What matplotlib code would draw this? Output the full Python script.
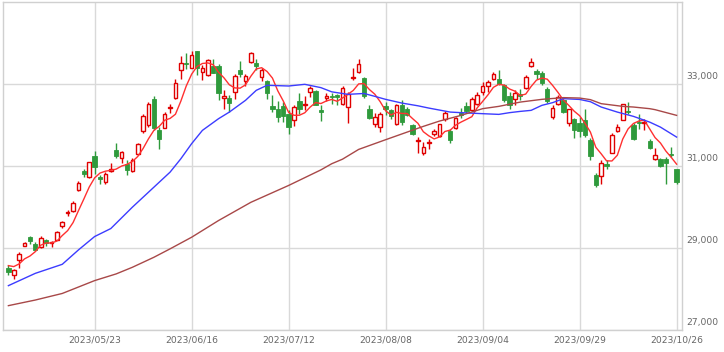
import numpy as np
import pandas as pd
import matplotlib
matplotlib.use("Agg")
import matplotlib.pyplot as plt
import matplotlib.transforms as mtransforms

# ---------------- data ----------------
holidays = ["2023-05-03", "2023-05-04", "2023-05-05", "2023-07-17",
            "2023-08-11", "2023-09-18", "2023-10-09"]
dates = pd.bdate_range("2023-04-26", "2023-10-26", freq="C", holidays=holidays)

opens = [28520, 28350, 28710, 29050, 29260, 29100, 29020, 29190, 29120, 29195,
         29530, 29838, 29900, 30420, 30860, 30720, 31240, 30735, 30600, 30880,
         31390, 31190, 31040, 30870, 31290, 31840, 32000, 32620, 31880, 31920,
         32410, 32660, 33340, 33500, 33390, 33790, 33290, 33200, 33430, 33430,
         32650, 32650, 32800, 33320, 33070, 33520, 33510, 33170, 33060, 32450,
         32390, 32450, 32270, 32110, 32580, 32480, 32800, 32810, 32350, 32660,
         32700, 32715, 32510, 32440, 33125, 33290, 33140, 32370, 32025, 31940,
         32460, 32350, 32025, 32490, 32370, 31985, 31610, 31320, 31560, 31765,
         31715, 32130, 31840, 31920, 32285, 32450, 32350, 32510, 32800, 32945,
         33120, 33120, 32960, 32690, 32635, 32740, 32895, 33440, 33300, 33270,
         32860, 32190, 32510, 32610, 32030, 32130, 32040, 32105, 31620, 30765,
         30740, 31040, 31320, 31846, 32120, 32330, 31985, 32060, 32030, 31595,
         31170, 31155, 31155, 31290, 30910]
highs = [28580, 28480, 28890, 29140, 29280, 29140, 29280, 29210, 29178, 29420,
         29660, 29920, 30130, 30630, 30930, 31090, 31350, 30780, 30840, 31070,
         31550, 31370, 31150, 31180, 31560, 32250, 32550, 32700, 31940, 32320,
         32510, 33120, 33670, 33735, 33800, 33790, 33450, 33610, 33610, 33490,
         32840, 32715, 33240, 33545, 33240, 33770, 33590, 33390, 33080, 32715,
         32570, 32550, 32350, 32470, 32780, 32690, 32940, 32840, 32490, 32780,
         32780, 32755, 32940, 32800, 33380, 33610, 33170, 32470, 32290, 32310,
         32550, 32390, 32510, 32610, 32420, 32020, 31690, 31580, 31640, 31900,
         32025, 32325, 31900, 32190, 32410, 32550, 32675, 32800, 33040, 33080,
         33285, 33325, 33000, 32800, 32840, 32880, 33200, 33630, 33365, 33300,
         32920, 32470, 32715, 32680, 32390, 32170, 32190, 32390, 31680, 30820,
         31130, 31130, 31800, 32025, 32510, 32550, 32040, 32250, 32150, 31660,
         31440, 31200, 31210, 31455, 30930]
lows = [28330, 28250, 28520, 29040, 29100, 28920, 29000, 29057, 29032, 29180,
        29490, 29785, 29880, 30390, 30720, 30700, 30810, 30555, 30555, 30840,
        31180, 31060, 30770, 30840, 31260, 31800, 31940, 31880, 31410, 31910,
        32290, 32630, 33120, 33350, 33370, 33220, 33080, 33190, 33250, 32590,
        32390, 32310, 32630, 33160, 32935, 33500, 33330, 33060, 32630, 32310,
        32065, 32065, 31780, 31970, 32270, 32350, 32675, 32470, 32080, 32570,
        32510, 32490, 32470, 32050, 33080, 33270, 32650, 32150, 31940, 31820,
        32230, 32150, 32000, 32000, 32200, 31740, 31317, 31270, 31415, 31720,
        31700, 32080, 31560, 31890, 32160, 32290, 32325, 32490, 32715, 32800,
        33080, 32960, 32550, 32390, 32490, 32590, 32860, 33400, 33120, 32960,
        32540, 32130, 32470, 32285, 31960, 31680, 31700, 31700, 31150, 30480,
        30560, 30930, 31310, 31820, 32105, 32250, 31620, 31900, 31880, 31410,
        31140, 30970, 30560, 31210, 30560]
closes = [28416, 28457, 28856, 29123, 29157, 28949, 29242, 29122, 29126, 29388,
          29626, 29843, 30094, 30574, 30808, 31087, 30958, 30683, 30801, 30916,
          31234, 31328, 30888, 31148, 31524, 32217, 32507, 31914, 31641, 32265,
          32434, 33019, 33502, 33485, 33706, 33370, 33389, 33575, 33265, 32782,
          32699, 32538, 33194, 33234, 33189, 33753, 33423, 33339, 32773, 32388,
          32190, 32204, 31944, 32419, 32391, 32494, 32896, 32491, 32304, 32701,
          32683, 32668, 32891, 32759, 33172, 33477, 32708, 32159, 32193, 32255,
          32377, 32204, 32474, 32060, 32239, 31767, 31626, 31451, 31566, 31857,
          32010, 32287, 31624, 32170, 32227, 32333, 32619, 32711, 32939, 33037,
          33241, 32991, 32607, 32468, 32776, 32707, 33168, 33533, 33243, 33024,
          32571, 32402, 32679, 32315, 32372, 31873, 31858, 31760, 31238, 30527,
          31075, 30995, 31747, 31937, 32495, 32316, 31659, 32040, 32042, 31431,
          31259, 31000, 31062, 31270, 30602]

# 5-day MA: first values (earlier closes not shown)
ma5_head = [28568, 28544, 28610, 28732]

# 25-day MA at these candle indices
ma25_idx = [0, 5, 10, 13, 16, 19, 21, 23, 27, 30, 32, 34, 36, 39, 41, 44, 46, 48,
            52, 55, 58, 60, 63, 66, 68, 70, 73, 76, 78, 82, 84, 88, 91, 93, 95,
            97, 99, 101, 103, 106, 108, 110, 113, 116, 119, 121, 124]
ma25_val = [28080, 28380, 28600, 28950, 29276, 29470, 29730, 29990, 30478, 30844,
            31170, 31537, 31861, 32146, 32307, 32593, 32837, 32959, 32942, 32983,
            32902, 32800, 32739, 32760, 32690, 32617, 32527, 32460, 32405, 32307,
            32293, 32268, 32251, 32293, 32324, 32349, 32471, 32537, 32634, 32615,
            32560, 32430, 32307, 32202, 32063, 31941, 31698]

# 75-day MA at these candle indices
ma75_idx = [0, 5, 10, 16, 20, 23, 27, 30, 34, 39, 45, 52, 58, 60, 62, 65, 70, 74,
            77, 80, 84, 88, 91, 95, 99, 103, 106, 108, 110, 114, 116, 119, 120, 124]
ma75_val = [27593, 27730, 27890, 28203, 28366, 28527, 28771, 28976, 29259, 29666,
            30110, 30520, 30900, 31049, 31160, 31398, 31634, 31820, 31959, 32088,
            32227, 32390, 32446, 32551, 32617, 32659, 32649, 32610, 32512, 32446,
            32430, 32390, 32366, 32227]

tick_labels = ["2023/05/23", "2023/06/16", "2023/07/12", "2023/08/08",
               "2023/09/04", "2023/09/29", "2023/10/26"]
y_ticks = [27000, 29000, 31000, 33000]

# ---------------- plot ----------------
plt.rcParams["font.family"] = ["DejaVu Sans"]
fig = plt.figure(figsize=(7.24, 3.52), dpi=100)
ax = fig.add_axes([3 / 724, 1 - 330 / 352, 679 / 724, 328.5 / 352])

n = len(closes)
x = np.arange(n)
o = np.array(opens, float)
h = np.array(highs, float)
l = np.array(lows, float)
c = np.array(closes, float)

RED = "#e00000"
GREEN = "#2f9a3c"

up = c >= o
# wicks
ax.vlines(x[up], l[up], h[up], color=RED, linewidth=1, zorder=2)
ax.vlines(x[~up], l[~up], h[~up], color=GREEN, linewidth=1, zorder=2)
# bodies
min_h = 25
body_bot = np.minimum(o, c)
body_h = np.maximum(np.abs(c - o), min_h)
ax.bar(x[up], body_h[up], bottom=body_bot[up], width=0.68,
       facecolor="white", edgecolor=RED, linewidth=1.0, zorder=3)
ax.bar(x[~up], body_h[~up], bottom=body_bot[~up], width=0.8,
       facecolor=GREEN, edgecolor=GREEN, linewidth=0.6, zorder=3)

# moving averages
ma5 = pd.Series(c).rolling(5).mean().to_numpy()
ma5[:4] = ma5_head
ax.plot(x, ma5, color="#ff3030", linewidth=1.0, zorder=4)
ax.plot(ma25_idx, ma25_val, color="#3c3cff", linewidth=1.0, zorder=4)
ax.plot(ma75_idx, ma75_val, color="#a84848", linewidth=1.0, zorder=4)

ax.set_xlim(-1, n)
ax.set_ylim(27000, 35000)

# grid
date_str = [d.strftime("%Y/%m/%d") for d in dates]
tick_pos = [date_str.index(t) for t in tick_labels]
ax.set_xticks(tick_pos)
ax.set_xticklabels(tick_labels, fontsize=6.6, color="#666666")
ax.tick_params(axis="x", length=0, pad=4)
ax.set_yticks(y_ticks)
ax.set_yticklabels([])
ax.tick_params(axis="y", length=0)
ax.grid(True, color="#d9d9d9", linewidth=1.0, zorder=0)
ax.set_axisbelow(True)
for s in ax.spines.values():
    s.set_color("#d0d0d0")
    s.set_linewidth(1.0)

# right-side price labels, just above the grid lines
trans = mtransforms.blended_transform_factory(ax.transAxes, ax.transData)
trans = trans + mtransforms.ScaledTranslation(4 / 100, 7 / 100, fig.dpi_scale_trans)
for v in y_ticks:
    ax.text(1.0, v, f"{v:,}", transform=trans, ha="left", va="center",
            fontsize=6.6, color="#666666")

fig.savefig("out.png", dpi=100, facecolor="white")
